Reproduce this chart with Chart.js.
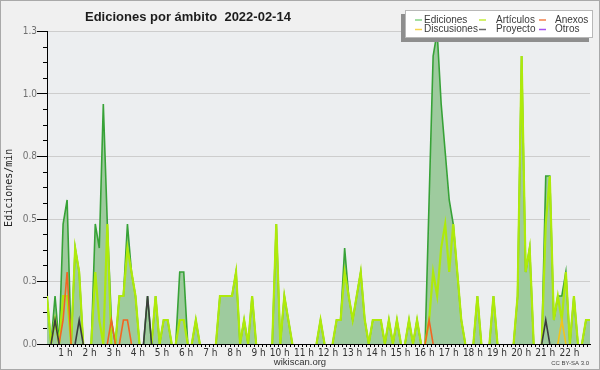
<!DOCTYPE html>
<html><head><meta charset="utf-8">
<script src="https://cdn.jsdelivr.net/npm/chart.js@4/dist/chart.umd.min.js"></script>
<style>html,body{margin:0;padding:0;background:#f0f0f0}canvas{display:block}</style>
</head><body>
<canvas id="c" width="600" height="370"></canvas>
<script>
// 10-minute bins (bin centre, minutes after midnight)
const times = Array.from({length: 136}, (_, i) => 5 + 10 * i);

const ediciones = [
 0.192,0,0.192,0,0.48,0.576,0,0.384,0.288,0,
 0,0,0.48,0.384,0.96,0.48,0.096,0,0.192,0.192,
 0.48,0.288,0.192,0,0,0.192,0,0.192,0,0.096,
 0.096,0,0,0.288,0.288,0,0,0.096,0,0,
 0,0,0,0.192,0.192,0.192,0.192,0.288,0,0.096,
 0,0.192,0,0,0,0,0,0.48,0,0.192,
 0.096,0,0,0,0,0,0,0,0.096,0,
 0,0,0.096,0.096,0.384,0.192,0.096,0.192,0.288,0.096,
 0,0.096,0.096,0.096,0,0.096,0,0.096,0,0,
 0.096,0,0.096,0,0,0.576,1.152,1.248,0.96,0.768,
 0.576,0.48,0.288,0.096,0,0,0,0.192,0,0,
 0,0.192,0,0,0,0,0,0.192,1.152,0.288,
 0.384,0,0,0,0.672,0.672,0.096,0.192,0.192,0.288,
 0,0.192,0,0,0.096,0.096];

const articulos = [
 0.192,0,0.096,0,0.192,0.192,0,0.384,0.288,0,
 0,0,0.288,0.096,0,0.48,0,0,0.192,0.192,
 0.384,0.288,0.192,0,0,0,0,0.192,0,0.096,
 0.096,0,0,0.096,0.096,0,0,0.096,0,0,
 0,0,0,0.192,0.192,0.192,0.192,0.288,0,0.096,
 0,0.192,0,0,0,0,0,0.48,0,0.192,
 0.096,0,0,0,0,0,0,0,0.096,0,
 0,0,0.096,0.096,0.288,0.192,0.096,0.192,0.288,0.096,
 0,0.096,0.096,0.096,0,0.096,0,0.096,0,0,
 0.096,0,0.096,0,0,0.096,0.288,0.192,0.384,0.48,
 0.288,0.48,0.288,0.096,0,0,0,0.192,0,0,
 0,0.192,0,0,0,0,0,0.192,1.152,0.288,
 0.384,0,0,0,0.48,0.672,0.096,0.192,0.096,0.288,
 0,0.192,0,0,0.096,0.096];

const anexos = [
 0,0,0,0,0.096,0.288,0,0,0,0,
 0,0,0,0,0,0,0.096,0,0,0.096,
 0.096,0,0,0,0,0,0,0,0,0,
 0,0,0,0,0,0,0,0,0,0,
 0,0,0,0,0,0,0,0,0,0,
 0,0,0,0,0,0,0,0,0,0,
 0,0,0,0,0,0,0,0,0,0,
 0,0,0,0,0,0,0,0,0,0,
 0,0,0,0,0,0,0,0,0,0,
 0,0,0,0,0,0.096,0,0,0,0,
 0,0,0,0,0,0,0,0,0,0,
 0,0,0,0,0,0,0,0,0,0,
 0,0,0,0,0,0,0,0,0,0,
 0,0,0,0,0,0];

const discusiones = [
 0,0,0,0,0,0,0,0,0,0,
 0,0,0,0,0,0,0,0,0,0,
 0,0,0,0,0,0,0,0,0,0,
 0,0,0,0,0,0,0,0,0,0,
 0,0,0,0,0,0,0,0,0,0,
 0,0,0,0,0,0,0,0,0,0,
 0,0,0,0,0,0,0,0,0,0,
 0,0,0,0,0,0,0,0,0,0,
 0,0,0,0,0,0,0,0,0,0,
 0,0,0,0,0,0,0,0,0,0,
 0,0,0,0,0,0,0,0,0,0,
 0,0,0,0,0,0,0,0,0,0,
 0,0,0,0,0,0,0,0,0.096,0,
 0,0,0,0,0,0];

const proyecto = [
 0,0,0.096,0,0,0,0,0,0.096,0,
 0,0,0,0,0,0,0,0,0,0,
 0,0,0,0,0,0.192,0,0,0,0,
 0,0,0,0,0,0,0,0,0,0,
 0,0,0,0,0,0,0,0,0,0,
 0,0,0,0,0,0,0,0,0,0,
 0,0,0,0,0,0,0,0,0,0,
 0,0,0,0,0,0,0,0,0,0,
 0,0,0,0,0,0,0,0,0,0,
 0,0,0,0,0,0,0,0,0,0,
 0,0,0,0,0,0,0,0,0,0,
 0,0,0,0,0,0,0,0,0,0,
 0,0,0,0,0.096,0,0,0,0,0,
 0,0,0,0,0,0];

const otros = [
 0,0,0,0,0,0,0,0,0,0,
 0,0,0,0,0,0,0,0,0,0,
 0,0,0,0,0,0,0,0,0,0,
 0,0,0,0,0,0,0,0,0,0,
 0,0,0,0,0,0,0,0,0,0,
 0,0,0,0,0,0,0,0,0,0,
 0,0,0,0,0,0,0,0,0,0,
 0,0,0,0,0,0,0,0,0,0,
 0,0,0,0,0,0,0,0,0,0,
 0,0,0,0,0,0,0,0,0,0,
 0,0,0,0,0,0,0,0,0,0,
 0,0,0,0,0,0,0,0,0,0,
 0,0,0,0,0,0,0,0,0,0,
 0,0,0,0,0,0];

const hourLabels = ['1 h','2 h','3 h','4 h','5 h','6 h','7 h','8 h','9 h','10 h','11 h',
  '12 h','13 h','14 h','15 h','16 h','17 h','18 h','19 h','20 h','21 h','22 h'];
const yTickValues = [0, 0.25, 0.5, 0.75, 1.0, 1.25];
const yTickLabels = ['0.0', '0.3', '0.5', '0.8', '1.0', '1.3'];
const seriesNames = ['Ediciones', 'Artículos', 'Anexos', 'Discusiones', 'Proyecto', 'Otros'];
const titleText = 'Ediciones por ámbito  2022-02-14';

const NARROW = '"Liberation Sans Narrow", "DejaVu Sans Condensed", "Liberation Sans", sans-serif';
const SANS = '"Liberation Sans", Arial, sans-serif';

const xTickValues = [];
for (let m = 10; m <= 1350; m += 10) xTickValues.push(m);
const yMinor = [];
for (let k = 0; k <= 20; k++) yMinor.push(k * 0.0625);
const isMajor = v => Math.abs(v / 0.25 - Math.round(v / 0.25)) < 1e-9;

function mk(label, values, color, width, order, legendColor, extra) {
  return Object.assign({
    label,
    data: values.map((v, i) => ({x: times[i], y: v})),
    borderColor: color,
    borderWidth: width,
    pointRadius: 0,
    tension: 0,
    fill: false,
    order,
    legendColor,
    segment: {
      borderColor: c => (c.p0.parsed.y === 0 && c.p1.parsed.y === 0) ? 'rgba(0,0,0,0)' : color
    }
  }, extra || {});
}

const datasets = [
  mk(seriesNames[0], ediciones, '#37a237', 1.6, 6, '#86d486', {fill: 'origin', backgroundColor: '#9ecb9e'}),
  mk(seriesNames[1], articulos, '#aeea0a', 2.2, 5, '#c4ee3c'),
  mk(seriesNames[2], anexos, '#f26522', 1.6, 3, '#f3804a'),
  mk(seriesNames[3], discusiones, '#f2c419', 1.6, 4, '#f7d44c'),
  mk(seriesNames[4], proyecto, '#3c3c3c', 1.6, 2, '#6a6a6a'),
  mk(seriesNames[5], otros, '#a040f0', 1.6, 1, '#a552f0')
];

const deco = {
  id: 'deco',
  beforeDraw(chart) {
    const {ctx, chartArea: a} = chart;
    ctx.save();
    ctx.fillStyle = '#f0f0f0';
    ctx.fillRect(0, 0, chart.width, chart.height);
    ctx.fillStyle = '#eceef0';
    ctx.fillRect(a.left, a.top, a.right - a.left, a.bottom - a.top);
    ctx.restore();
  },
  afterDraw(chart) {
    const {ctx, chartArea: a} = chart;
    const y = chart.scales.y;
    ctx.save();
    ctx.strokeStyle = '#000';
    ctx.lineWidth = 1;
    yTickValues.forEach(v => {
      const py = Math.floor(y.getPixelForValue(v)) + 0.5;
      ctx.beginPath(); ctx.moveTo(a.left - 10, py); ctx.lineTo(a.left - 3, py); ctx.stroke();
    });
    ctx.strokeStyle = '#a9a9a9';
    ctx.strokeRect(0.5, 0.5, chart.width - 1, chart.height - 1);
    ctx.fillStyle = '#1c1c1c';
    ctx.textAlign = 'left';
    ctx.textBaseline = 'alphabetic';
    ctx.font = 'bold 13px ' + SANS;
    ctx.fillText(titleText, 85, 20.5);
    ctx.fillStyle = '#333';
    ctx.textAlign = 'center';
    ctx.font = '9.5px ' + SANS;
    ctx.fillText('wikiscan.org', 300, 364.5);
    ctx.textAlign = 'right';
    ctx.font = '6px ' + SANS;
    ctx.fillStyle = '#444';
    ctx.fillText('CC BY-SA 3.0', 589, 365);
    ctx.fillStyle = '#8e8e8e';
    ctx.fillRect(401, 14, 188, 28);
    ctx.fillStyle = '#ffffff';
    ctx.fillRect(405, 10, 188, 28);
    ctx.strokeStyle = '#b8b8b8';
    ctx.strokeRect(405.5, 10.5, 187, 27);
    const cols = [[415, 424], [479, 496], [539, 555]];
    const rows = [20, 29.5];
    ctx.font = '10px ' + SANS;
    ctx.textAlign = 'left';
    ctx.textBaseline = 'middle';
    chart.data.datasets.forEach((ds, i) => {
      const c = cols[i % 3], r = rows[Math.floor(i / 3)];
      ctx.strokeStyle = ds.legendColor;
      ctx.lineWidth = 1.5;
      ctx.beginPath(); ctx.moveTo(c[0], r); ctx.lineTo(c[0] + 7, r); ctx.stroke();
      ctx.fillStyle = '#3a3a3a';
      ctx.fillText(ds.label, c[1], r);
    });
    ctx.restore();
  }
};

new Chart(document.getElementById('c'), {
  type: 'line',
  data: {datasets},
  plugins: [deco],
  options: {
    responsive: false,
    animation: false,
    layout: {padding: {top: 31.5, right: 10, bottom: 0, left: 0}},
    plugins: {legend: {display: false}, tooltip: {enabled: false}, title: {display: false}},
    scales: {
      x: {
        type: 'linear', min: 5, max: 1355, z: 1,
        afterBuildTicks: s => { s.ticks = xTickValues.map(v => ({value: v})); },
        afterFit: s => { s.height = 26; },
        grid: {drawOnChartArea: false, drawTicks: true, tickLength: 3, tickColor: '#000', color: '#000'},
        border: {display: true, color: '#000', width: 1},
        ticks: {
          autoSkip: false, maxRotation: 0, minRotation: 0, align: 'end', labelOffset: 3.5, padding: 0,
          color: '#333', font: {family: NARROW, size: 10},
          callback: v => (v % 60 === 0 && v / 60 >= 1 && v / 60 <= hourLabels.length) ? hourLabels[v / 60 - 1] : ''
        }
      },
      y: {
        min: 0, max: 1.25,
        afterBuildTicks: s => { s.ticks = yMinor.map(v => ({value: v})); },
        afterFit: s => { s.width = 47; },
        grid: {
          color: c => (c.tick && isMajor(c.tick.value) && c.tick.value > 0) ? '#cdcdcd' : 'rgba(0,0,0,0)',
          tickColor: '#000', tickLength: 4, drawTicks: true
        },
        border: {display: true, color: '#000', width: 1},
        ticks: {
          autoSkip: false, padding: 6, color: '#707070', font: {family: NARROW, size: 10},
          callback: v => { const k = yTickValues.findIndex(t => Math.abs(t - v) < 1e-9); return k >= 0 ? yTickLabels[k] : ''; }
        },
        title: {display: true, text: 'Ediciones/min', color: '#222',
          font: {family: '"DejaVu Sans Mono", monospace', size: 10}, padding: {top: 3, bottom: 0}}
      }
    }
  }
});
</script>
</body></html>
